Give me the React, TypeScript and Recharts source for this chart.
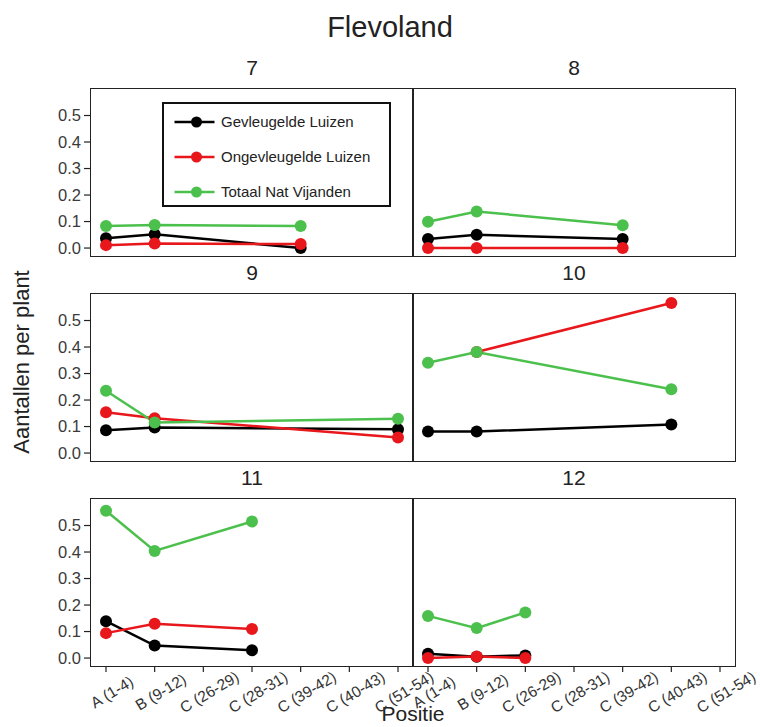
import React from "react";
import { LineChart, Line, XAxis, YAxis, Legend } from "recharts";

// x-axis categories (positie in het gewas)
const posities = [
  "A (1-4)",
  "B (9-12)",
  "C (26-29)",
  "C (28-31)",
  "C (39-42)",
  "C (40-43)",
  "C (51-54)",
];
const yTicks = [0, 0.1, 0.2, 0.3, 0.4, 0.5];

// week 7
const gev7 = [0.037, 0.052, null, null, 0.0, null, null];
const ongev7 = [0.011, 0.017, null, null, 0.015, null, null];
const totaal7 = [0.083, 0.087, null, null, 0.083, null, null];
// week 8
const gev8 = [0.034, 0.05, null, null, 0.034, null, null];
const ongev8 = [0.0, 0.0, null, null, 0.0, null, null];
const totaal8 = [0.099, 0.138, null, null, 0.086, null, null];
// week 9
const gev9 = [0.086, 0.096, null, null, null, null, 0.09];
const ongev9 = [0.154, 0.131, null, null, null, null, 0.059];
const totaal9 = [0.235, 0.115, null, null, null, null, 0.129];
// week 10
const gev10 = [0.081, 0.081, null, null, null, 0.108, null];
const ongev10 = [null, 0.381, null, null, null, 0.566, null];
const totaal10 = [0.341, 0.381, null, null, null, 0.241, null];
// week 11
const gev11 = [0.139, 0.047, null, 0.029, null, null, null];
const ongev11 = [0.094, 0.129, null, 0.11, null, null, null];
const totaal11 = [0.556, 0.404, null, 0.515, null, null, null];
// week 12
const gev12 = [0.016, 0.005, 0.01, null, null, null, null];
const ongev12 = [0.0, 0.006, 0.0, null, null, null, null];
const totaal12 = [0.159, 0.113, 0.172, null, null, null, null];

const series = [
  { key: "gev", name: "Gevleugelde Luizen", color: "#000000" },
  { key: "ongev", name: "Ongevleugelde Luizen", color: "#e8171c" },
  { key: "totaal", name: "Totaal Nat Vijanden", color: "#4cc04c" },
];

const panels = [
  { title: "7", col: 0, row: 0, gev: gev7, ongev: ongev7, totaal: totaal7 },
  { title: "8", col: 1, row: 0, gev: gev8, ongev: ongev8, totaal: totaal8 },
  { title: "9", col: 0, row: 1, gev: gev9, ongev: ongev9, totaal: totaal9 },
  { title: "10", col: 1, row: 1, gev: gev10, ongev: ongev10, totaal: totaal10 },
  { title: "11", col: 0, row: 2, gev: gev11, ongev: ongev11, totaal: totaal11 },
  { title: "12", col: 1, row: 2, gev: gev12, ongev: ongev12, totaal: totaal12 },
];

const FONT = "'Liberation Sans', Arial, sans-serif";
const FRAME = "#222";
const PLOT_W = 322;
const PLOT_H = 167;
const colX = [91, 413];
const rowY = [89, 294, 499];
const Y_W = 50;
const TOP = 6;
const BOTTOM = 55;
const RIGHT = 30;

function PosTick(props: any) {
  const { x, y, payload } = props;
  return (
    <g transform={`translate(${x + 6},${y + 18}) rotate(-31)`}>
      <text textAnchor="middle" dy="0.35em" fontSize={15.5} fill="#333">
        {payload.value}
      </text>
    </g>
  );
}

function LegendBox(props: any) {
  const payload = props.payload || [];
  return (
    <div
      style={{
        width: 229,
        height: 105,
        border: "2.5px solid #111",
        boxSizing: "border-box",
        background: "#fff",
      }}
    >
      {payload.map((e: any) => (
        <div key={e.value} style={{ height: 35, display: "flex", alignItems: "center" }}>
          <svg width={57} height={14} style={{ flex: "none" }}>
            <line x1={10.5} x2={50.5} y1={7} y2={7} stroke={e.color} strokeWidth={2.5} />
            <circle cx={32.5} cy={7} r={5.5} fill={e.color} />
          </svg>
          <span style={{ fontSize: 15, color: "#222", whiteSpace: "nowrap" }}>{e.value}</span>
        </div>
      ))}
    </div>
  );
}

function Panel({ col, row, gev, ongev, totaal, legend }: any) {
  const isLeft = col === 0;
  const isBottom = row === 2;
  const data = posities.map((p, i) => ({
    pos: p,
    gev: gev[i],
    ongev: ongev[i],
    totaal: totaal[i],
  }));
  const left = colX[col] - Y_W;
  const top = rowY[row] - TOP;
  const width = Y_W + PLOT_W + RIGHT;
  const height = TOP + PLOT_H + BOTTOM;
  return (
    <div style={{ position: "absolute", left, top, width, height }}>
      <LineChart
        width={width}
        height={height}
        data={data}
        margin={{ top: TOP, right: RIGHT, left: isLeft ? 0 : Y_W, bottom: isBottom ? 0 : BOTTOM }}
      >
        <XAxis
          dataKey="pos"
          type="category"
          interval={0}
          padding={{ left: 15, right: 15 }}
          height={BOTTOM}
          mirror={!isBottom}
          axisLine={false}
          tickLine={{ stroke: FRAME, strokeWidth: 1.2 }}
          tickSize={6}
          tick={isBottom ? <PosTick /> : false}
        />
        <YAxis
          type="number"
          domain={[-0.03, 0.6]}
          ticks={yTicks}
          allowDataOverflow
          width={Y_W}
          mirror={!isLeft}
          axisLine={false}
          tickLine={{ stroke: FRAME, strokeWidth: 1.2 }}
          tickSize={7}
          tickMargin={3}
          tickFormatter={(v: number) => v.toFixed(1)}
          tick={isLeft ? { fontSize: 16.5, fill: "#3a3a3a" } : false}
        />
        {series.map((s) => (
          <Line
            key={s.key}
            dataKey={s.key}
            name={s.name}
            stroke={s.color}
            strokeWidth={2.5}
            dot={{ r: 6, fill: s.color, stroke: s.color, strokeWidth: 0 }}
            activeDot={false}
            connectNulls
            isAnimationActive={false}
          />
        ))}
        {legend && (
          <Legend
            layout="horizontal"
            verticalAlign="middle"
            align="center"
            content={<LegendBox />}
            wrapperStyle={{ left: 162 - left, top: 102 - top, width: 229 }}
          />
        )}
      </LineChart>
      <div
        style={{
          position: "absolute",
          left: Y_W - 0.75,
          top: TOP - 0.75,
          width: PLOT_W + 1.5,
          height: PLOT_H + 1.5,
          border: `1.5px solid ${FRAME}`,
          boxSizing: "border-box",
          pointerEvents: "none",
        }}
      />
    </div>
  );
}

export default function App() {
  return (
    <div
      style={{
        position: "absolute",
        left: 0,
        top: 0,
        width: 760,
        height: 727,
        overflow: "hidden",
        background: "#fff",
        fontFamily: FONT,
      }}
    >
      <svg width={760} height={727} style={{ position: "absolute", left: 0, top: 0 }}>
        <text x={390} y={37} textAnchor="middle" fontSize={29} fill="#222">
          Flevoland
        </text>
        {panels.map((p) => (
          <text
            key={p.title}
            x={colX[p.col] + PLOT_W / 2}
            y={rowY[p.row] - 14}
            textAnchor="middle"
            fontSize={21}
            fill="#222"
          >
            {p.title}
          </text>
        ))}
        <text
          transform="translate(29,362) rotate(-90)"
          textAnchor="middle"
          fontSize={22}
          fill="#222"
        >
          Aantallen per plant
        </text>
        <text x={413} y={721} textAnchor="middle" fontSize={21} fill="#222">
          Positie
        </text>
      </svg>
      {panels.map((p) => (
        <Panel
          key={p.title}
          col={p.col}
          row={p.row}
          gev={p.gev}
          ongev={p.ongev}
          totaal={p.totaal}
          legend={p.title === "7"}
        />
      ))}
    </div>
  );
}
